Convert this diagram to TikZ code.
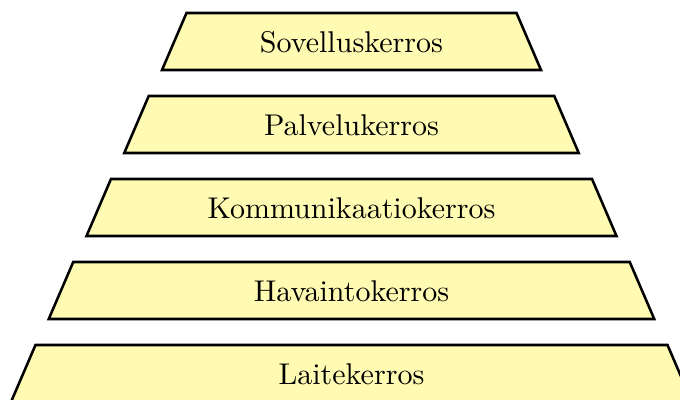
\documentclass[tikz,border=0pt]{standalone}
\begin{document}
\begin{tikzpicture}[x=0.33333pt,y=-0.33333pt,
  layer/.style={draw=black,fill=yellow!30,line width=0.85pt,line join=miter},
  layerlabel/.style={font=\normalsize,inner sep=0pt}]
\useasboundingbox (0,0) rectangle (680,400);
\clip (0,0) rectangle (680,400);
% stacked layers, widest at the bottom
\foreach \i/\name/\txt in {0/app/Sovelluskerros,1/svc/Palvelukerros,2/com/Kommunikaatiokerros,3/sens/Havaintokerros,4/dev/Laitekerros}{
  \pgfmathsetmacro{\ty}{13+83*\i}
  \pgfmathsetmacro{\by}{\ty+57}
  \pgfmathsetmacro{\th}{165+37.75*\i}
  \pgfmathsetmacro{\bh}{\th+24.5}
  \draw[layer] (351.5-\th,\ty) -- (351.5+\th,\ty) -- (351.5+\bh,\by) -- (351.5-\bh,\by) -- cycle;
  \node[layerlabel] (\name) at (351.5,{\ty+29.5}) {\txt};
}
\end{tikzpicture}
\end{document}
